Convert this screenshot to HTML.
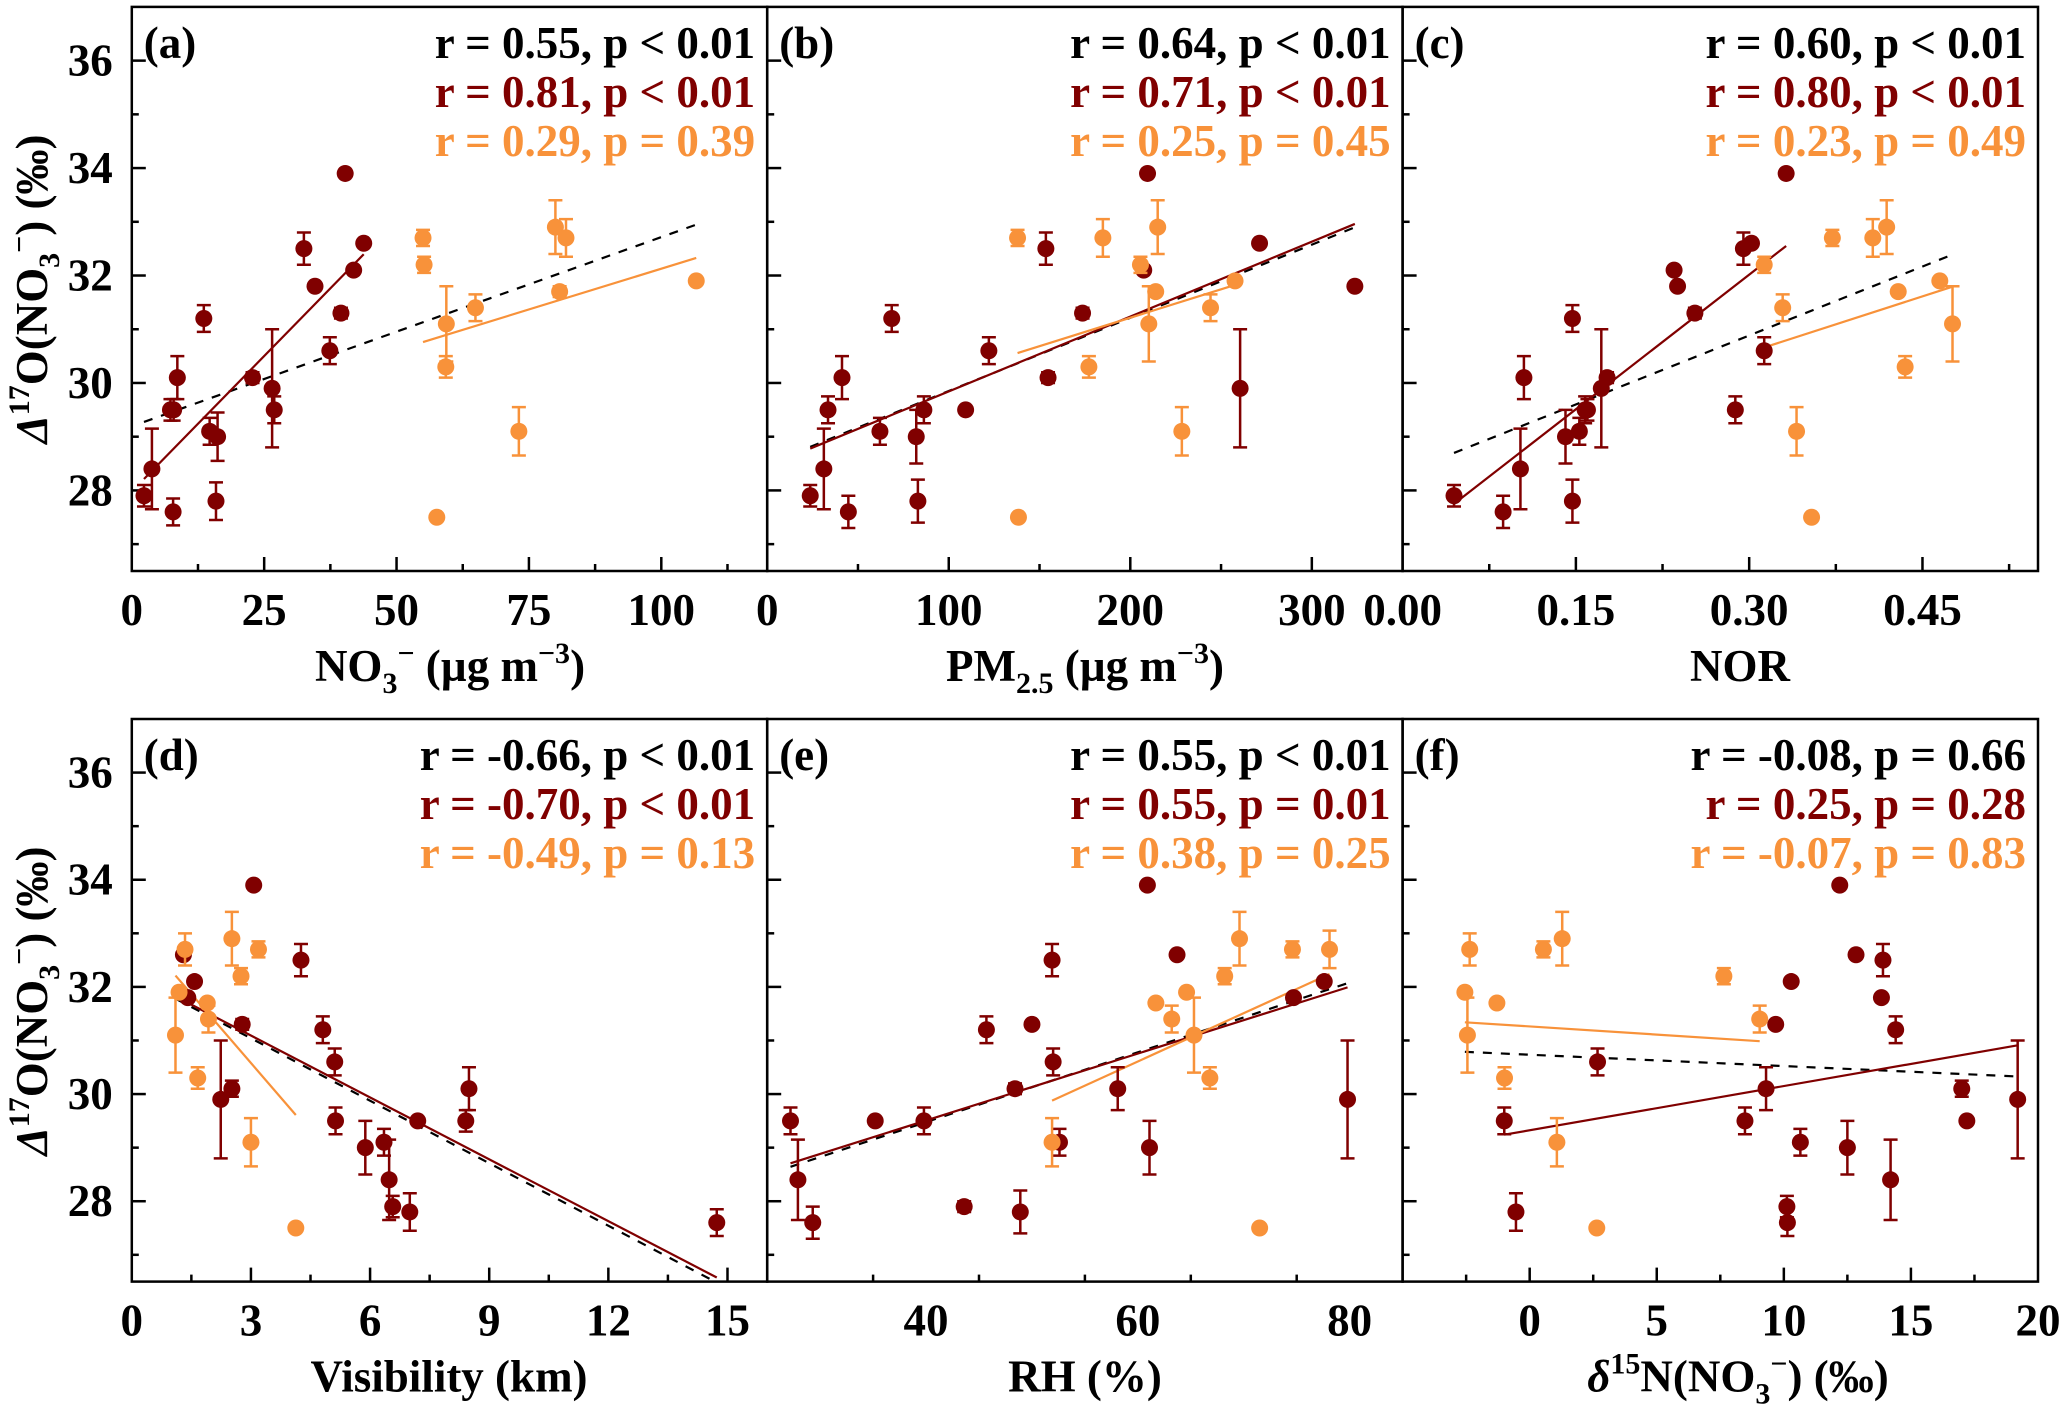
<!DOCTYPE html>
<html><head><meta charset="utf-8"><style>
html,body{margin:0;padding:0;background:#fff;}
svg{display:block;font-family:"Liberation Serif",serif;font-weight:bold;}
</style></head><body>
<svg id="fig" width="2067" height="1408" viewBox="0 0 2067 1408" xmlns="http://www.w3.org/2000/svg" font-family="Liberation Serif, serif" font-weight="bold">
<rect x="0" y="0" width="2067" height="1408" fill="#fff"/>
</svg>
<script>
// ---------- data (panel a: NO3-) ----------
const aDarkX = [2.3,3.8,7.3,7.9,7.8,8.6,13.6,14.7,16.2,15.9,22.8,26.5,26.9,32.5,34.6,37.4,39.5,40.3,41.9,43.8];
const aDarkY = [27.9,28.4,29.5,29.5,27.6,30.1,31.2,29.1,29.0,27.8,30.1,29.9,29.5,32.5,31.8,30.6,31.3,33.9,32.1,32.6];
const aDarkE = [0.2,0.75,0.2,0.2,0.25,0.4,0.25,0.25,0.45,0.35,0.1,1.1,0.25,0.3,0,0.25,0.1,0,0,0];
const aOrX = [55.0,55.2,57.6,59.4,59.3,64.9,73.1,80.0,82.0,80.8,106.6];
const aOrY = [32.7,32.2,27.5,31.1,30.3,31.4,29.1,32.9,32.7,31.7,31.9];
const aOrE = [0.15,0.15,0,0.7,0.2,0.25,0.45,0.5,0.35,0.1,0];
// ---------- panel b: PM2.5 ----------
const bDarkX = [23.7,31.2,33.5,41.2,44.7,62.1,68.6,82.1,83.0,86.3,109.3,122.1,153.5,154.7,173.7,209.5,207.4,260.5,271.2,323.7];
const bDarkY = [27.9,28.4,29.5,30.1,27.6,29.1,31.2,29.0,27.8,29.5,29.5,30.6,32.5,30.1,31.3,33.9,32.1,29.9,32.6,31.8];
const bDarkE = [0.2,0.75,0.25,0.4,0.3,0.25,0.25,0.5,0.4,0.25,0,0.25,0.3,0.1,0.1,0,0,1.1,0,0];
const bOrX = [137.9,138.4,177.2,184.9,205.6,210.2,214.0,215.1,228.4,244.2,257.7];
const bOrY = [32.7,27.5,30.3,32.7,32.2,31.1,31.7,32.9,29.1,31.4,31.9];
const bOrE = [0.15,0,0.2,0.35,0.15,0.7,0,0.5,0.45,0.25,0];
// ---------- panel c: NOR ----------
const cDarkX = [0.0445,0.087,0.102,0.105,0.141,0.147,0.147,0.153,0.158,0.16,0.172,0.177,0.235,0.238,0.253,0.288,0.295,0.302,0.313,0.332];
const cDarkY = [27.9,27.6,28.4,30.1,29.0,31.2,27.8,29.1,29.5,29.5,29.9,30.1,32.1,31.8,31.3,29.5,32.5,32.6,30.6,33.9];
const cDarkE = [0.2,0.3,0.75,0.4,0.5,0.25,0.4,0.25,0.25,0.2,1.1,0.1,0,0,0.1,0.25,0.3,0,0.25,0];
const cOrX = [0.313,0.329,0.341,0.354,0.372,0.407,0.419,0.429,0.435,0.465,0.476];
const cOrY = [32.2,31.4,29.1,27.5,32.7,32.7,32.9,31.7,30.3,31.9,31.1];
const cOrE = [0.15,0.25,0.45,0,0.15,0.35,0.5,0,0.2,0,0.7];
// ---------- panel d: Visibility ----------
const dDarkX = [1.3,1.41,1.58,2.24,2.52,2.78,3.07,4.26,4.81,5.11,5.13,5.88,6.35,6.48,6.57,7.0,7.2,8.41,8.49,14.73];
const dDarkY = [32.6,31.8,32.1,29.9,30.1,31.3,33.9,32.5,31.2,30.6,29.5,29.0,29.1,28.4,27.9,27.8,29.5,29.5,30.1,27.6];
const dDarkE = [0,0,0,1.1,0.15,0.1,0,0.3,0.25,0.25,0.25,0.5,0.25,0.75,0.2,0.35,0,0.2,0.4,0.25];
const dOrX = [1.1,1.19,1.34,1.66,1.9,1.93,2.52,2.75,3.0,3.19,4.13];
const dOrY = [31.1,31.9,32.7,30.3,31.7,31.4,32.9,32.2,29.1,32.7,27.5];
const dOrE = [0.7,0,0.3,0.2,0,0.25,0.5,0.15,0.45,0.15,0];
// ---------- panel e: RH ----------
const eDarkX = [27.2,27.9,29.3,35.2,39.8,43.6,45.7,48.4,48.9,50.0,51.9,52.0,52.6,58.1,60.9,61.1,63.7,74.7,77.6,79.8];
const eDarkY = [29.5,28.4,27.6,29.5,29.5,27.9,31.2,30.1,27.8,31.3,32.5,30.6,29.1,30.1,33.9,29.0,32.6,31.8,32.1,29.9];
const eDarkE = [0.25,0.75,0.3,0,0.25,0.1,0.25,0.1,0.4,0,0.3,0.25,0.25,0.4,0,0.5,0,0,0,1.1];
const eOrX = [51.9,61.7,63.2,64.6,65.3,66.8,68.2,69.6,71.5,74.6,78.1];
const eOrY = [29.1,31.7,31.4,31.9,31.1,30.3,32.2,32.9,27.5,32.7,32.7];
const eOrE = [0.45,0,0.25,0,0.7,0.2,0.15,0.5,0,0.15,0.35];
// ---------- panel f: d15N ----------
const fDarkX = [-1.0,-0.54,2.67,8.47,9.3,9.68,10.29,10.12,10.14,10.65,12.2,12.5,12.84,13.9,13.84,14.2,14.4,17.0,17.2,19.2];
const fDarkY = [29.5,27.8,30.6,29.5,30.1,31.3,32.1,27.9,27.6,29.1,33.9,29.0,32.6,32.5,31.8,28.4,31.2,30.1,29.5,29.9];
const fDarkE = [0.25,0.35,0.25,0.25,0.4,0,0,0.2,0.25,0.25,0,0.5,0,0.3,0,0.75,0.25,0.15,0,1.1];
const fOrX = [-2.55,-2.45,-2.36,-1.29,-0.99,0.54,1.07,1.28,2.64,7.64,9.05];
const fOrY = [31.9,31.1,32.7,31.7,30.3,32.7,29.1,32.9,27.5,32.2,31.4];
const fOrE = [0,0.7,0.3,0,0.2,0.15,0.45,0.5,0,0.15,0.25];
// ---------- axis ticks ----------
const yMajorTicks = [28,30,32,34,36];
const yMinorTicks = [27,29,31,33,35];
const aXTicks = [0,25,50,75,100]; const aXTickLabels = ["0","25","50","75","100"];
const bXTicks = [0,100,200,300]; const bXTickLabels = ["0","100","200","300"];
const cXTicks = [0,0.15,0.30,0.45]; const cXTickLabels = ["0.00","0.15","0.30","0.45"];
const dXTicks = [0,3,6,9,12,15]; const dXTickLabels = ["0","3","6","9","12","15"];
const eXTicks = [40,60,80]; const eXTickLabels = ["40","60","80"];
const fXTicks = [0,5,10,15,20]; const fXTickLabels = ["0","5","10","15","20"];

const DARK = "#800000", ORANGE = "#f8923a";
const NS = "http://www.w3.org/2000/svg";
const svg = document.getElementById('fig');
function mk(tag, attrs, parent){ const e=document.createElementNS(NS,tag); for(const k in attrs) e.setAttribute(k,attrs[k]); (parent||svg).appendChild(e); return e; }

function fit(xs, ys){
  const n=xs.length; let sx=0,sy=0,sxx=0,sxy=0;
  for(let i=0;i<n;i++){sx+=xs[i];sy+=ys[i];sxx+=xs[i]*xs[i];sxy+=xs[i]*ys[i];}
  const b=(n*sxy-sx*sy)/(n*sxx-sx*sx); const a=(sy-b*sx)/n;
  return {a,b,min:Math.min(...xs),max:Math.max(...xs)};
}

const W=635.4;
function panel(cfg){
  const x0=cfg.x0, y0=cfg.y0, H=cfg.H, y1=y0+H;
  const sx=v=>x0+(v-cfg.xmin)/(cfg.xmax-cfg.xmin)*W;
  const sy=v=>y1-(v-26.5)/(37-26.5)*H;
  const g=mk('g',{});
  
  
  const fr=mk('rect',{x:x0,y:y0,width:W,height:H,fill:'none',stroke:'#000','stroke-width':2.5},g);
  
  
  yMajorTicks.forEach(v=>{ const t=mk('line',{x1:x0,x2:x0+14,y1:sy(v),y2:sy(v),stroke:'#000','stroke-width':2.5},g);
     
    if(cfg.yLabels){ const l=mk('text',{x:x0-19,y:sy(v)+15,'text-anchor':'end','font-size':45},g); l.textContent=String(v);
        }
  });
  yMinorTicks.forEach(v=>{ const t=mk('line',{x1:x0,x2:x0+7,y1:sy(v),y2:sy(v),stroke:'#000','stroke-width':2.5},g);
      });
  for(let v=cfg.xmin; v<=cfg.xmax+1e-9; v+=cfg.minor){
    const isMaj = Math.abs(Math.round(v/cfg.major)*cfg.major - v) < 1e-6;
    if(v<=cfg.xmin+1e-9 || v>=cfg.xmax-1e-9) continue;
    const t=mk('line',{x1:sx(v),x2:sx(v),y1:y1,y2:y1-(isMaj?14:7),stroke:'#000','stroke-width':2.5},g);
     
  }
  cfg.xticks.forEach((v,i)=>{ const l=mk('text',{x:sx(v),y:y1+54,'text-anchor':'middle','font-size':45},g); l.textContent=cfg.xlabels[i];
      });
  const at=mk('text',{x:cfg.titleX,y:y1+110,'text-anchor':'middle','font-size':45},g);
  at.innerHTML=cfg.title;
   
  const fa=fit(cfg.dx.concat(cfg.ox), cfg.dy.concat(cfg.oy));
  const fd=fit(cfg.dx,cfg.dy), fo=fit(cfg.ox,cfg.oy);
  const ln=(f,col,dash,nm)=>{ const l=mk('line',{x1:sx(f.min),y1:sy(f.a+f.b*f.min),x2:sx(f.max),y2:sy(f.a+f.b*f.max),stroke:col,'stroke-width':2.2},g);
    if(dash) l.setAttribute('stroke-dasharray','9,9');
      };
  ln(fa,'#000',true,'fit-line-all');
  ln(fd,DARK,false,'fit-line-dark');
  ln(fo,ORANGE,false,'fit-line-orange');
  const pts=(xs,ys,es,col,nm)=>{ xs.forEach((x,i)=>{
    const cx=sx(x), cy=sy(ys[i]);
    if(es[i]>0){ const e=mk('path',{d:`M${cx},${sy(ys[i]-es[i])}V${sy(ys[i]+es[i])}M${cx-7},${sy(ys[i]-es[i])}h14M${cx-7},${sy(ys[i]+es[i])}h14`,stroke:col,'stroke-width':2.5,fill:'none'},g);
        }
    const c=mk('circle',{cx:cx,cy:cy,r:8.5,fill:col},g);
     
  });};
  pts(cfg.dx,cfg.dy,cfg.de,DARK,'point-dark');
  pts(cfg.ox,cfg.oy,cfg.oe,ORANGE,'point-orange');
  const pl=mk('text',{x:x0+12,y:y0+51,'font-size':45},g); pl.textContent=cfg.label;
   
  const cols=['#000',DARK,ORANGE];
  cfg.stats.forEach((s,i)=>{ const t=mk('text',{x:x0+W-12,y:y0+51+i*49,'text-anchor':'end','font-size':45,fill:cols[i]},g); t.textContent=s;
      });
}

const cx0=[131.8,767.2,1402.6];
const TOP={y0:6.9,H:564.1}, BOT={y0:719,H:562.6};
panel({name:'panel-a',x0:cx0[0],y0:TOP.y0,H:TOP.H,xmin:0,xmax:120,major:25,minor:12.5,xticks:aXTicks,xlabels:aXTickLabels,yLabels:true,
  title:'NO<tspan font-size="30" dy="12">3</tspan><tspan font-size="30" dy="-30">−</tspan><tspan dy="18"> (µg m</tspan><tspan font-size="30" dy="-18">−3</tspan><tspan dy="18">)</tspan>',titleX:450,
  dx:aDarkX,dy:aDarkY,de:aDarkE,ox:aOrX,oy:aOrY,oe:aOrE,label:'(a)',stats:['r = 0.55, p < 0.01','r = 0.81, p < 0.01','r = 0.29, p = 0.39']});
panel({name:'panel-b',x0:cx0[1],y0:TOP.y0,H:TOP.H,xmin:0,xmax:350,major:100,minor:50,xticks:bXTicks,xlabels:bXTickLabels,yLabels:false,
  title:'PM<tspan font-size="30" dy="12">2.5</tspan><tspan dy="-12"> (µg m</tspan><tspan font-size="30" dy="-18">−3</tspan><tspan dy="18">)</tspan>',titleX:1085,
  dx:bDarkX,dy:bDarkY,de:bDarkE,ox:bOrX,oy:bOrY,oe:bOrE,label:'(b)',stats:['r = 0.64, p < 0.01','r = 0.71, p < 0.01','r = 0.25, p = 0.45']});
panel({name:'panel-c',x0:cx0[2],y0:TOP.y0,H:TOP.H,xmin:0,xmax:0.55,major:0.15,minor:0.075,xticks:cXTicks,xlabels:cXTickLabels,yLabels:false,
  title:'NOR',titleX:1740,
  dx:cDarkX,dy:cDarkY,de:cDarkE,ox:cOrX,oy:cOrY,oe:cOrE,label:'(c)',stats:['r = 0.60, p < 0.01','r = 0.80, p < 0.01','r = 0.23, p = 0.49']});
panel({name:'panel-d',x0:cx0[0],y0:BOT.y0,H:BOT.H,xmin:0,xmax:16,major:3,minor:1.5,xticks:dXTicks,xlabels:dXTickLabels,yLabels:true,
  title:'Visibility (km)',titleX:449,
  dx:dDarkX,dy:dDarkY,de:dDarkE,ox:dOrX,oy:dOrY,oe:dOrE,label:'(d)',stats:['r = -0.66, p < 0.01','r = -0.70, p < 0.01','r = -0.49, p = 0.13']});
panel({name:'panel-e',x0:cx0[1],y0:BOT.y0,H:BOT.H,xmin:25,xmax:85,major:20,minor:10,xticks:eXTicks,xlabels:eXTickLabels,yLabels:false,
  title:'RH (%)',titleX:1085,
  dx:eDarkX,dy:eDarkY,de:eDarkE,ox:eOrX,oy:eOrY,oe:eOrE,label:'(e)',stats:['r = 0.55, p < 0.01','r = 0.55, p = 0.01','r = 0.38, p = 0.25']});
panel({name:'panel-f',x0:cx0[2],y0:BOT.y0,H:BOT.H,xmin:-5,xmax:20,major:5,minor:2.5,xticks:fXTicks,xlabels:fXTickLabels,yLabels:false,
  title:'<tspan font-style="italic">δ</tspan><tspan font-size="30" dy="-18">15</tspan><tspan dy="18">N(NO</tspan><tspan font-size="30" dy="12">3</tspan><tspan font-size="30" dy="-30">−</tspan><tspan dy="18">) (‰)</tspan>',titleX:1738,
  dx:fDarkX,dy:fDarkY,de:fDarkE,ox:fOrX,oy:fOrY,oe:fOrE,label:'(f)',stats:['r = -0.08, p = 0.66','r = 0.25, p = 0.28','r = -0.07, p = 0.83']});

[289, 1001].forEach(cy=>{
  const t=mk('text',{x:0,y:0,transform:`translate(47,${cy}) rotate(-90)`,'text-anchor':'middle','font-size':45});
  t.innerHTML='<tspan font-style="italic">Δ</tspan><tspan font-size="30" dy="-18">17</tspan><tspan dy="18">O(NO</tspan><tspan font-size="30" dy="12">3</tspan><tspan font-size="30" dy="-30">−</tspan><tspan dy="18">) (‰)</tspan>';
  
  
});
</script>
</body></html>
